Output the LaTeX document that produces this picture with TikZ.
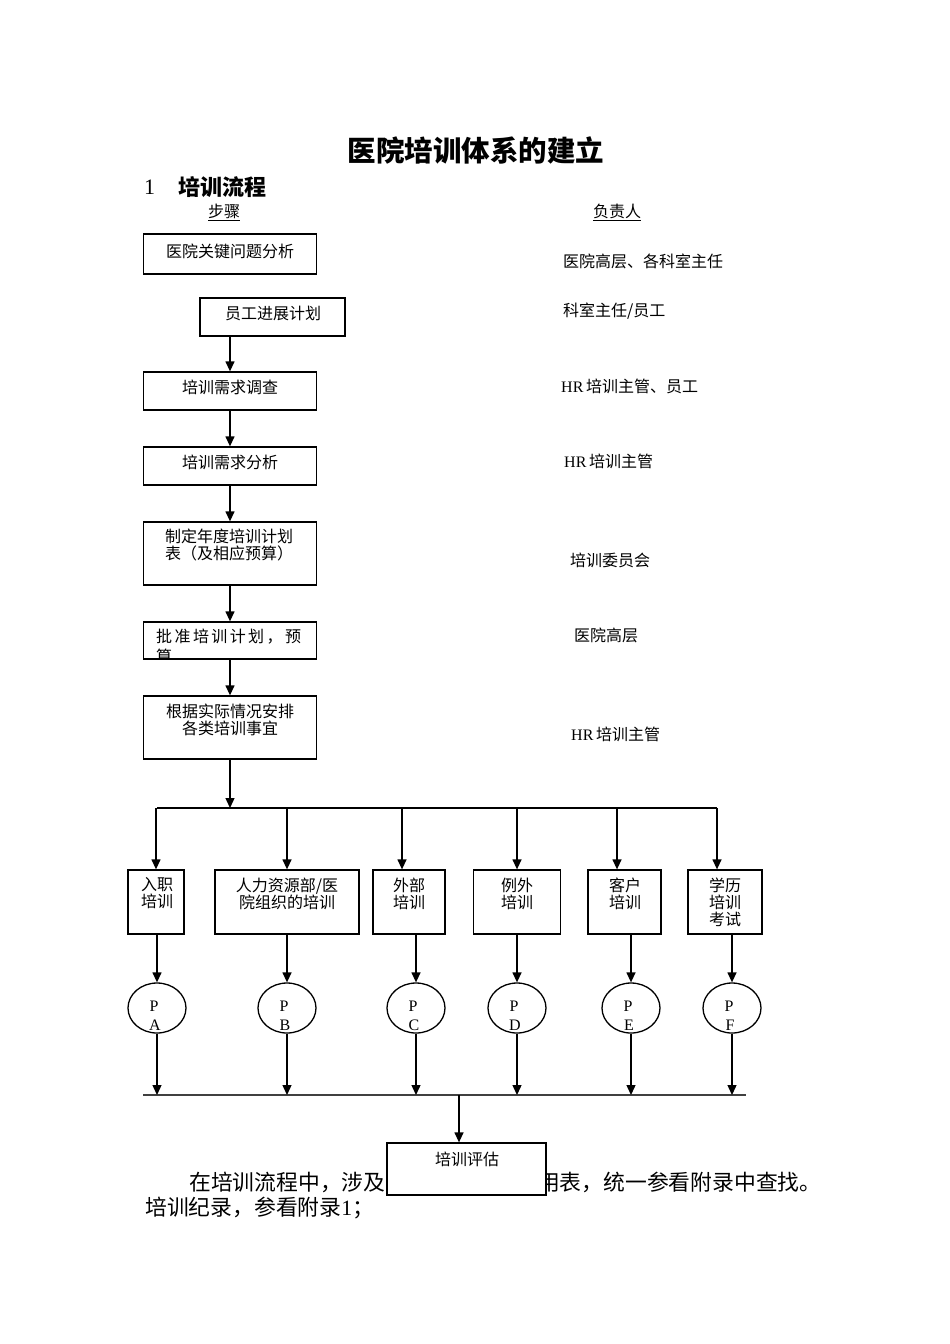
\documentclass[tikz,border=0pt]{standalone}
\usepackage{fontspec}
\setmainfont{Noto Sans CJK SC}
\newfontfamily\lat{Liberation Serif}
\usetikzlibrary{arrows.meta,shapes.geometric}
\begin{document}
\begin{tikzpicture}[x=1pt,y=-1pt,
  box/.style={draw,line width=1.3pt,inner sep=0pt,fill=white},
  txt/.style={inner sep=0pt,font=\fontsize{16}{17}\selectfont,align=center},
  lbl/.style={inner sep=0pt,font=\fontsize{16}{17}\selectfont,anchor=west},
  arr/.style={-{Triangle[length=10pt,width=9pt]},line width=1.3pt},
  circ/.style={draw,ellipse,line width=1.3pt,minimum width=58pt,minimum height=50pt,inner sep=0pt},
  ltr/.style={inner sep=0pt,font=\lat\fontsize{16}{17}\selectfont},
  body/.style={inner sep=0pt,font=\fontsize{21.8}{24}\selectfont,anchor=west}]
\useasboundingbox[fill=white] (0,0) rectangle (950,1344);

% headings
\node[inner sep=0pt,font=\fontsize{28.5}{32}\selectfont\bfseries] (title) at (476,150) {医院培训体系的建立};
\node[inner sep=0pt,font=\lat\fontsize{22}{24}\selectfont,anchor=west] (secnum) at (144,187) {1};
\node[inner sep=0pt,font=\fontsize{22}{24}\selectfont\bfseries,anchor=west] (sec) at (178,187) {培训流程};
\node[txt] (hstep) at (224,212) {\underline{步骤}};
\node[txt] (hresp) at (617,212) {\underline{负责人}};

% step boxes
\node[box,minimum width=173pt,minimum height=40pt] (b1) at (230,254) {};
\node[box,minimum width=145pt,minimum height=38pt] (b2) at (272.5,317) {};
\node[box,minimum width=173pt,minimum height=38pt] (b3) at (230,391) {};
\node[box,minimum width=173pt,minimum height=38pt] (b4) at (230,466) {};
\node[box,minimum width=173pt,minimum height=63pt] (b5) at (230,553.5) {};
\node[box,minimum width=173pt,minimum height=37pt] (b6) at (230,640.5) {};
\node[box,minimum width=173pt,minimum height=63pt] (b7) at (230,727.5) {};

\node[txt] (b1t) at (230,251) {医院关键问题分析};
\node[txt] (b2t) at (273,313) {员工进展计划};
\node[txt] (b3t) at (230,387) {培训需求调查};
\node[txt] (b4t) at (230,462) {培训需求分析};
\node[txt,align=left] (b5t) at (229,544.5) {制定年度培训计划\\表（及相应预算）};
\begin{scope}
  \clip (b6.south west) rectangle (b6.north east);
  \node[txt,anchor=west] (b6t) at (156,637) {批\hspace{2.4pt}准\hspace{2.4pt}培\hspace{2.4pt}训\hspace{2.4pt}计\hspace{2.4pt}划\hspace{2.4pt}，\hspace{2.4pt}预};
  \node[txt,anchor=west] (b6u) at (156,656) {算};
\end{scope}
\node[txt] (b7t) at (230,719.5) {根据实际情况安排\\各类培训事宜};

% responsible labels
\node[lbl] (l1) at (563,261) {医院高层、各科室主任};
\node[lbl] (l2) at (563,311) {科室主任/员工};
\node[lbl] (l3) at (561,386) {{\lat HR}\,培训主管、员工};
\node[lbl] (l4) at (564,461) {{\lat HR}\,培训主管};
\node[lbl] (l5) at (570,560) {培训委员会};
\node[lbl] (l6) at (574,635) {医院高层};
\node[lbl] (l7) at (571,734) {{\lat HR}\,培训主管};

% vertical arrows
\draw[arr] (b3.north |- b2.south) -- (b3.north);
\draw[arr] (b3.south) -- (b4.north);
\draw[arr] (b4.south) -- (b5.north);
\draw[arr] (b5.south) -- (b6.north);
\draw[arr] (b6.south) -- (b7.north);
\coordinate (bus) at (230,808);
\draw[arr] (b7.south) -- (b7.south |- bus);

% training type boxes
\node[box,minimum width=56pt,minimum height=64pt] (t1) at (156,902) {};
\node[box,minimum width=144pt,minimum height=64pt] (t2) at (287,902) {};
\node[box,minimum width=72pt,minimum height=64pt] (t3) at (409,902) {};
\node[box,minimum width=87pt,minimum height=64pt] (t4) at (517,902) {};
\node[box,minimum width=73pt,minimum height=64pt] (t5) at (624.5,902) {};
\node[box,minimum width=74pt,minimum height=64pt] (t6) at (725,902) {};
\node[txt] (t1t) at (157,893.5) {入职\\培训};
\node[txt] (t2t) at (287,893.5) {人力资源部/医\\院组织的培训};
\node[txt] (t3t) at (409,893.5) {外部\\培训};
\node[txt] (t4t) at (517,893.5) {例外\\培训};
\node[txt] (t5t) at (625,893.5) {客户\\培训};
\node[txt] (t6t) at (725,902) {学历\\培训\\考试};

% bus and drops
\draw[line width=1.3pt] (157,808) coordinate (busL) -- (717,808) coordinate (busR);
\draw[arr] (t1.north |- bus) -- (t1.north);
\draw[arr] (t2.north |- bus) -- (t2.north);
\draw[arr] ([xshift=-7pt]t3.north |- bus) -- ([xshift=-7pt]t3.north);
\draw[arr] (t4.north |- bus) -- (t4.north);
\draw[arr] ([xshift=-7.5pt]t5.north |- bus) -- ([xshift=-7.5pt]t5.north);
\draw[arr] ([xshift=-8pt]t6.north |- bus) -- ([xshift=-8pt]t6.north);

% circles
\node[circ] (p1) at (157,1008) {};
\node[circ] (p2) at (287,1008) {};
\node[circ] (p3) at (416,1008) {};
\node[circ] (p4) at (517,1008) {};
\node[circ] (p5) at (631,1008) {};
\node[circ] (p6) at (732,1008) {};
\foreach \i/\l in {1/A,2/B,3/C,4/D,5/E,6/F}{
  \node[ltr] (pp\i) at ([xshift=-3pt,yshift=2pt]p\i.center) {P};
  \node[ltr] (pl\i) at ([xshift=-2pt,yshift=-17pt]p\i.center) {\l};
}
\foreach \i in {1,...,6}{
  \draw[arr] (p\i.north |- t\i.south) -- (p\i.north);
}

% second bus
\coordinate (bus2) at (459,1095);
\draw[line width=2.2pt,black!75] (143,1095) coordinate (bus2L) -- (746,1095) coordinate (bus2R);
\foreach \i in {1,...,6}{
  \draw[arr] (p\i.south) -- (p\i.south |- bus2);
}

% body text
\node[body] (para1) at (189,1182) {在培训流程中，涉及到的各种培训所用表，统一参看附录中查找。};
\node[body] (para2) at (145,1208) {培训纪录，参看附录{\lat 1}；};

% evaluation box
\node[box,minimum width=159pt,minimum height=52pt] (ev) at (466.5,1169) {};
\node[txt] (evt) at (467,1159) {培训评估};
\draw[arr] (bus2) -- (bus2 |- ev.north);
\end{tikzpicture}
\end{document}
